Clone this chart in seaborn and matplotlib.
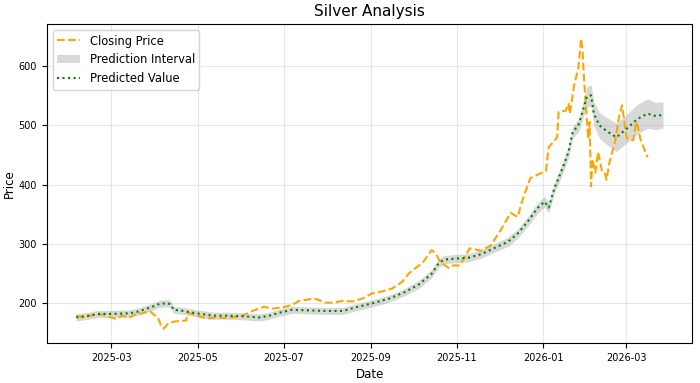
import pandas as pd
import matplotlib
matplotlib.use("Agg")
import matplotlib.pyplot as plt
import matplotlib.dates as mdates
import seaborn as sns

# closing price
close_dates = [
    "2025-02-04", "2025-02-09", "2025-02-16", "2025-02-23", "2025-02-27", "2025-03-04",
    "2025-03-09", "2025-03-13", "2025-03-18", "2025-03-23", "2025-03-28", "2025-04-01",
    "2025-04-03", "2025-04-05", "2025-04-07", "2025-04-10", "2025-04-14", "2025-04-19",
    "2025-04-23", "2025-04-24", "2025-05-01", "2025-05-07", "2025-05-14", "2025-05-21",
    "2025-05-28", "2025-06-02", "2025-06-09", "2025-06-17", "2025-06-23", "2025-06-30",
    "2025-07-07", "2025-07-12", "2025-07-23", "2025-07-31", "2025-08-05", "2025-08-12",
    "2025-08-19", "2025-08-26", "2025-09-02", "2025-09-09", "2025-09-16", "2025-09-23",
    "2025-09-28", "2025-10-05", "2025-10-08", "2025-10-14", "2025-10-17", "2025-10-20",
    "2025-10-26", "2025-10-29", "2025-11-03", "2025-11-10", "2025-11-18", "2025-11-25",
    "2025-12-02", "2025-12-09", "2025-12-14", "2025-12-17", "2025-12-23", "2026-01-03",
    "2026-01-05", "2026-01-11", "2026-01-12", "2026-01-17", "2026-01-19", "2026-01-20",
    "2026-01-23", "2026-01-26", "2026-01-28", "2026-01-29", "2026-01-30", "2026-02-01",
    "2026-02-02", "2026-02-03", "2026-02-04", "2026-02-05", "2026-02-07", "2026-02-09",
    "2026-02-12", "2026-02-14", "2026-02-15", "2026-02-17", "2026-02-21", "2026-02-24",
    "2026-02-26", "2026-03-01", "2026-03-02", "2026-03-06", "2026-03-08", "2026-03-09",
    "2026-03-11", "2026-03-16",
]
close_values = [
    178, 175, 179, 180, 176, 173,
    178, 174, 180, 182, 186, 178,
    175, 162, 156, 164, 168, 169,
    170, 183, 178, 173, 175, 174,
    176, 178, 186, 193, 190, 192,
    196, 203, 207, 200, 200, 203,
    202, 207, 216, 219, 224, 235,
    250, 263, 269, 289, 283, 269,
    259, 263, 263, 292, 288, 297,
    323, 352, 345, 371, 411, 423,
    463, 480, 523, 525, 537, 520,
    568, 597, 647, 625, 580, 511,
    477, 506, 397, 443, 420, 455,
    420, 418, 408, 437, 472, 517,
    534, 483, 477, 475, 506, 500,
    477, 446,
]

# model prediction and interval half width
pred_dates = [
    "2025-02-04", "2025-02-13", "2025-02-19", "2025-03-02", "2025-03-14", "2025-03-20",
    "2025-03-26", "2025-03-31", "2025-04-04", "2025-04-10", "2025-04-12", "2025-04-14",
    "2025-04-21", "2025-04-30", "2025-05-12", "2025-05-22", "2025-06-02", "2025-06-14",
    "2025-06-21", "2025-06-28", "2025-07-07", "2025-07-18", "2025-07-31", "2025-08-12",
    "2025-08-21", "2025-09-02", "2025-09-14", "2025-09-25", "2025-10-05", "2025-10-14",
    "2025-10-19", "2025-10-23", "2025-11-02", "2025-11-09", "2025-11-18", "2025-11-27",
    "2025-12-07", "2025-12-14", "2025-12-21", "2025-12-28", "2026-01-02", "2026-01-05",
    "2026-01-09", "2026-01-12", "2026-01-15", "2026-01-19", "2026-01-22", "2026-01-26",
    "2026-01-29", "2026-02-01", "2026-02-04", "2026-02-06", "2026-02-10", "2026-02-16",
    "2026-02-22", "2026-03-01", "2026-03-09", "2026-03-16", "2026-03-22", "2026-03-27",
]
pred_values = [
    175, 178, 181, 181, 182, 185,
    190, 194, 198, 199, 197, 188,
    186, 182, 178, 178, 177, 175,
    178, 183, 188, 187, 186, 186,
    192, 199, 207, 218, 231, 249,
    267, 273, 275, 276, 282, 292,
    303, 317, 337, 360, 371, 361,
    394, 411, 429, 455, 489, 500,
    523, 549, 551, 520, 500, 489,
    480, 494, 511, 520, 516, 518,
]
pred_halfwidth = [
    6, 6, 6, 6, 6, 6,
    6, 6, 6, 6, 6, 6,
    6, 6, 6, 6, 6, 6,
    6, 6, 6, 6, 6, 6,
    6, 6, 6, 6, 7, 7,
    7, 7, 7, 7, 7, 7,
    8, 8, 8, 9, 9, 9,
    9, 10, 10, 10, 10, 11,
    13, 17, 18, 20, 22, 23,
    24, 24, 25, 25, 23, 22,
]

closing = pd.DataFrame({"Date": pd.to_datetime(close_dates), "Price": close_values})
pred = pd.DataFrame({"Date": pd.to_datetime(pred_dates), "Price": pred_values, "hw": pred_halfwidth})

fig, ax = plt.subplots(figsize=(7, 3.83), dpi=100)

sns.lineplot(data=closing, x="Date", y="Price", ax=ax, color="orange",
             linestyle="--", linewidth=1.5, label="Closing Price")
ax.fill_between(pred["Date"], pred["Price"] - pred["hw"], pred["Price"] + pred["hw"],
                color="gray", alpha=0.3, linewidth=0, label="Prediction Interval")
sns.lineplot(data=pred, x="Date", y="Price", ax=ax, color="green",
             linestyle=":", linewidth=1.5, label="Predicted Value")

ax.xaxis.set_major_locator(mdates.MonthLocator(bymonth=[1, 3, 5, 7, 9, 11]))
ax.xaxis.set_major_formatter(mdates.DateFormatter("%Y-%m"))
ax.tick_params(labelsize=7)
ax.grid(True, alpha=0.3)
ax.set_title("Silver Analysis", fontsize=11)
ax.set_xlabel("Date", fontsize=8.5)
ax.set_ylabel("Price", fontsize=8.5, labelpad=2)
ax.legend(loc="upper left", fontsize=8.3)

plt.subplots_adjust(left=0.067, right=0.989, bottom=0.104, top=0.937)
plt.savefig("out.png", dpi=100)
